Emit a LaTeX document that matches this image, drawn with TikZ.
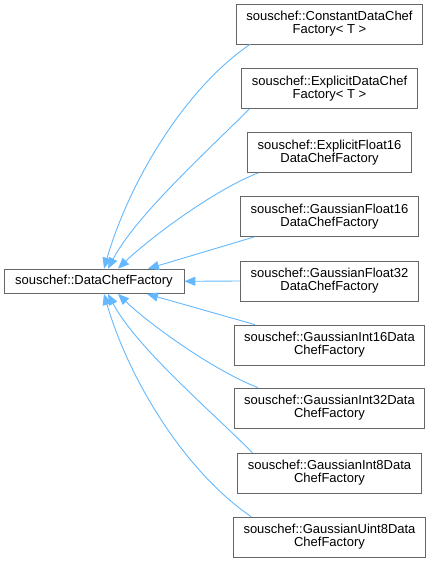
\documentclass[tikz,border=0pt]{standalone}
\usepackage{fontspec}
\setmainfont{Liberation Sans}
\usepackage{tikz}
\usetikzlibrary{arrows.meta}
\definecolor{edgeblue}{HTML}{63B8FF}
\definecolor{boxgray}{HTML}{666666}
\tikzset{
  classbox/.style = {draw=boxgray,line width=0.8pt,fill=white,align=center,
                     font=\fontsize{13}{13}\selectfont,inner xsep=10pt,inner ysep=0pt},
  twoline/.style  = {classbox,minimum height=40pt},
  oneline/.style  = {classbox,minimum height=24.5pt,minimum width=180pt},
  inharr/.style   = {-{Triangle[length=11pt,width=9pt]},edgeblue,line width=0.9pt}
}

\begin{document}
\begin{tikzpicture}[x=1pt,y=-1pt]
  \useasboundingbox (0,0) rectangle (432,563);
  % base class
  \node[oneline] (base) at (94,281.3) {souschef::DataChefFactory};
  % derived classes
  \node[twoline] (cst)  at (329.5,24)  {souschef::ConstantDataChef\\Factory< T >};
  \node[twoline] (expl) at (329.5,88.5) {souschef::ExplicitDataChef\\Factory< T >};
  \node[twoline] (ef16) at (329.5,152.5) {souschef::ExplicitFloat16\\DataChefFactory};
  \node[twoline] (gf16) at (329.5,216.5) {souschef::GaussianFloat16\\DataChefFactory};
  \node[twoline] (gf32) at (329.5,281)  {souschef::GaussianFloat32\\DataChefFactory};
  \node[twoline] (gi16) at (329.5,345)  {souschef::GaussianInt16Data\\ChefFactory};
  \node[twoline] (gi32) at (329.5,408)  {souschef::GaussianInt32Data\\ChefFactory};
  \node[twoline] (gi8)  at (329.5,473)  {souschef::GaussianInt8Data\\ChefFactory};
  \node[twoline] (gu8)  at (329.5,537)  {souschef::GaussianUint8Data\\ChefFactory};
  % inheritance edges
  \draw[inharr] ([xshift=14pt]cst.south west) .. controls +(-66,45) and +(25,-86) .. ([xshift=10pt]base.north);
  \draw[inharr] ([xshift=8pt]expl.south west) .. controls +(-42,42) and +(28,-53) .. ([xshift=14pt]base.north);
  \draw[inharr] ([xshift=11pt]ef16.south west) .. controls +(-46,18) and +(30,-29) .. ([xshift=24pt]base.north);
  \draw[inharr] ([xshift=14pt]gf16.south west) -- ([xshift=54pt]base.north);
  \draw[inharr] (gf32.west) -- (base.east);
  \draw[inharr] ([xshift=21pt]gi16.north west) -- ([xshift=53pt]base.south);
  \draw[inharr] ([xshift=24pt]gi32.north west) .. controls +(-46,-18) and +(30,29) .. ([xshift=24pt]base.south);
  \draw[inharr] ([xshift=15pt]gi8.north west) .. controls +(-42,-42) and +(28,53) .. ([xshift=14pt]base.south);
  \draw[inharr] ([xshift=18pt]gu8.north west) .. controls +(-66,-45) and +(25,86) .. ([xshift=10pt]base.south);
\end{tikzpicture}
\end{document}
